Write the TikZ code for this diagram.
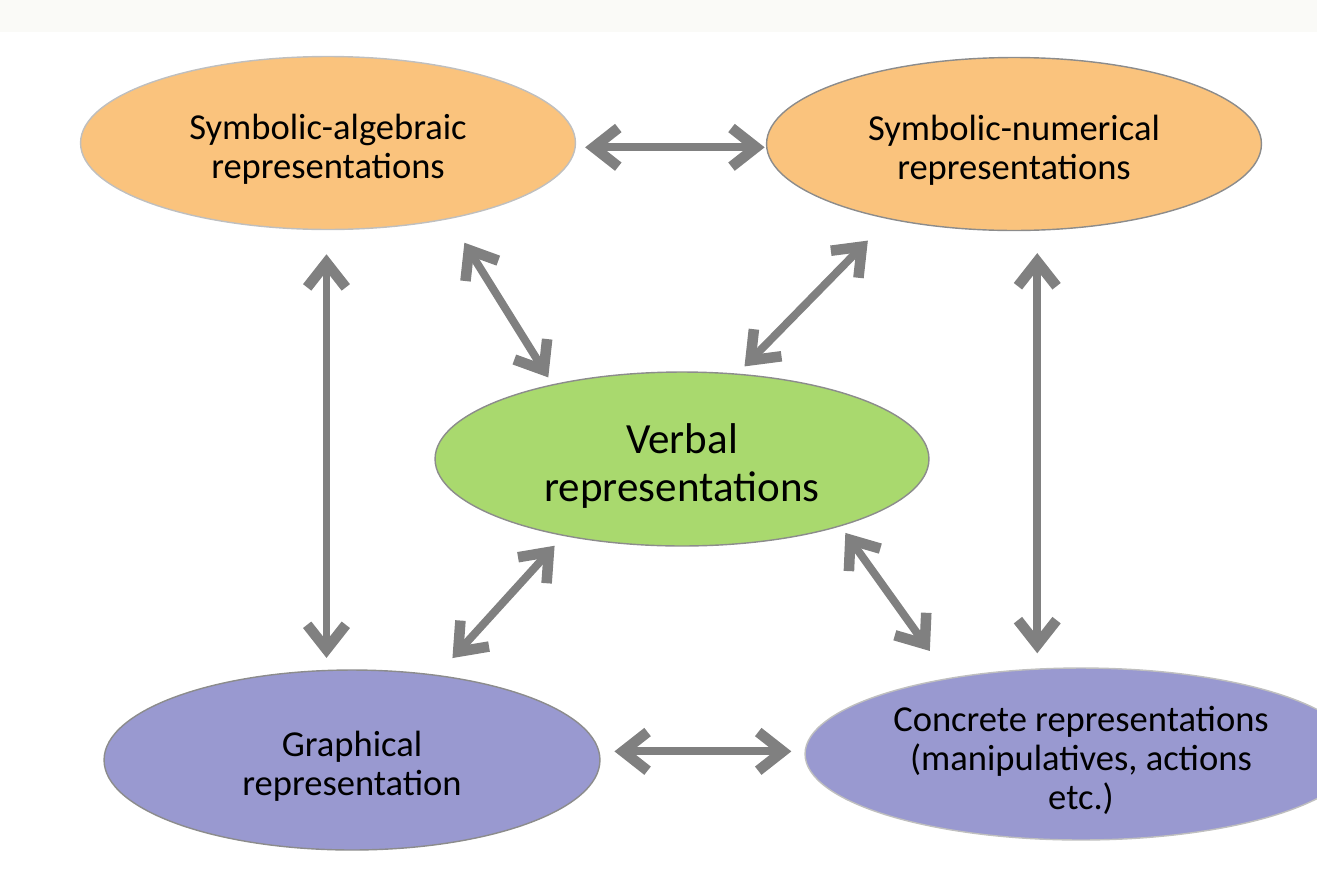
\documentclass[tikz,border=0pt]{standalone}
\usepackage{fontspec}
\setmainfont{Carlito}
\usetikzlibrary{shapes.geometric,arrows.meta}
\definecolor{orangefill}{RGB}{250,195,125}
\definecolor{greenfill}{RGB}{169,217,110}
\definecolor{purplefill}{RGB}{153,153,208}
\definecolor{linkgray}{RGB}{128,128,128}
\definecolor{stripgray}{RGB}{250,250,247}
\newcommand{\textlift}[1][21.5pt]{\rule{0pt}{#1}}
\begin{document}
\begin{tikzpicture}[x=0.02cm,y=-0.02cm]
        \tikzstyle{repr}=[ellipse,draw=black!45,line width=0.8pt,align=center,inner sep=0pt,
                          font=\fontsize{20.8}{22}\selectfont]
        \tikzstyle{topbox}=[repr,fill=orangefill,minimum width=9.9cm,minimum height=3.46cm]
        \tikzstyle{midbox}=[repr,fill=greenfill,minimum width=9.88cm,minimum height=3.48cm,
                            font=\fontsize{24.5}{27.3}\selectfont]
        \tikzstyle{lowbox}=[repr,fill=purplefill,minimum height=3.6cm]
        \tikzstyle{link}=[draw=linkgray,line width=4.5pt,
                          {Straight Barb[length=14pt,width=22pt,line width=6pt]}-{Straight Barb[length=14pt,width=22pt,line width=6pt]}]
        \useasboundingbox (0,0) rectangle (1317,869);
        \fill[stripgray] (0,0) rectangle (1317,32);
        % the five kinds of representation
        \node [topbox,draw=black!25] (sa) at (328,143) {\textlift Symbolic-algebraic\\representations};
        \node [topbox] (sn) at (1014,144) {\textlift Symbolic-numerical\\representations};
        \node [midbox] (vb) at (682,459) {\textlift[25pt]Verbal\\representations};
        \node [lowbox,minimum width=9.92cm] (gr) at (352,760) {\textlift Graphical\\representation};
        \node [lowbox,draw=black!25,minimum width=11.04cm,minimum height=3.44cm] (cr) at (1081,754)
              {\textlift Concrete representations\\(manipulatives, actions\\etc.)};
        % links between them
        \path (sa.-1) edge [link, shorten <=5.3pt, shorten >=0.7pt] (sa.-1 -| sn.west);
        \path (sa.-91.3) edge [link, shorten <=13.7pt, shorten >=6.5pt] (sa.-91.3 |- gr.north);
        \path (sn.-75.1) edge [link, shorten <=12.7pt, shorten >=8pt] (sn.-75.1 |- cr.north);
        \path (sa.-32.3) edge [link, shorten <=15.9pt, shorten >=4.6pt] (vb.150.2);
        \path (sn.-149.4) edge [link, shorten <=17pt, shorten >=5.7pt] (vb.57.5);
        \path (vb.-147.1) edge [link, shorten <=7.5pt, shorten >=12.9pt] (gr.45.6);
        \path (vb.-23.3) edge [link, shorten <=4.6pt, shorten >=18.8pt] (cr.150.9);
        \path (gr.2.8) edge [link, shorten <=8.5pt, shorten >=7.4pt] (gr.2.8 -| cr.west);
\end{tikzpicture}
\end{document}
